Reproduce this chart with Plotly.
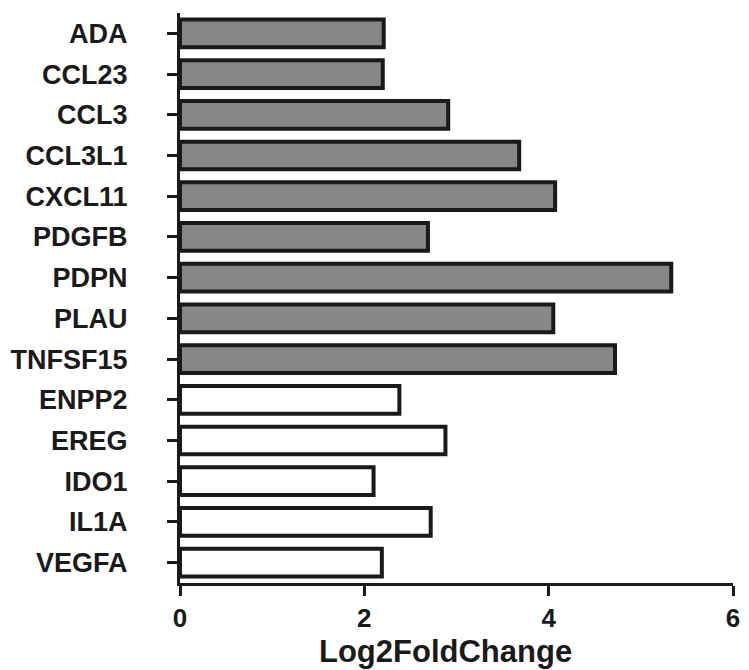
import plotly.graph_objects as go

genes_gray = ["ADA", "CCL23", "CCL3", "CCL3L1", "CXCL11", "PDGFB", "PDPN", "PLAU", "TNFSF15"]
values_gray = [2.21, 2.20, 2.91, 3.68, 4.07, 2.69, 5.33, 4.05, 4.72]
genes_white = ["ENPP2", "EREG", "IDO1", "IL1A", "VEGFA"]
values_white = [2.38, 2.88, 2.10, 2.72, 2.19]
x_ticks = [0, 2, 4, 6]
x_title = "Log2FoldChange"

all_genes = genes_gray + genes_white
FONT = "Liberation Sans, Arial, sans-serif"

fig = go.Figure()
fig.add_trace(go.Bar(
    y=genes_gray, x=values_gray, orientation="h", width=0.68,
    marker=dict(color="#878787", line=dict(color="#1a1a1a", width=4)),
    showlegend=False,
))
fig.add_trace(go.Bar(
    y=genes_white, x=values_white, orientation="h", width=0.68,
    marker=dict(color="#ffffff", line=dict(color="#1a1a1a", width=4)),
    showlegend=False,
))

fig.update_layout(
    width=749, height=670,
    margin=dict(l=180, r=9, t=13, b=87),
    paper_bgcolor="white", plot_bgcolor="white",
    barmode="overlay",
    font=dict(family=FONT, color="#1a1a1a"),
    annotations=[dict(
        text="<b>" + x_title + "</b>", xref="paper", yref="paper",
        x=0.48, y=-0.1195, xanchor="center", yanchor="middle", showarrow=False,
        font=dict(size=31, family=FONT, color="#1a1a1a"),
    )],
)
fig.update_xaxes(
    range=[0, 6], tickvals=x_ticks, ticktext=[str(v) for v in x_ticks],
    showline=True, linecolor="#1a1a1a", linewidth=3,
    ticks="outside", ticklen=10, tickwidth=3, tickcolor="#1a1a1a",
    showgrid=False, zeroline=False,
    tickfont=dict(size=26, family=FONT, weight="bold", color="#1a1a1a"),
    ticklabelstandoff=0,
)
fig.update_yaxes(
    categoryorder="array", categoryarray=all_genes,
    range=[len(all_genes) - 0.5, -0.5],
    showline=True, linecolor="#1a1a1a", linewidth=3,
    ticks="outside", ticklen=10, tickwidth=3, tickcolor="#1a1a1a",
    showgrid=False, zeroline=False,
    tickfont=dict(size=27, family=FONT, weight="bold"),
    ticklabelstandoff=34,
)

fig.write_html("out.html")
